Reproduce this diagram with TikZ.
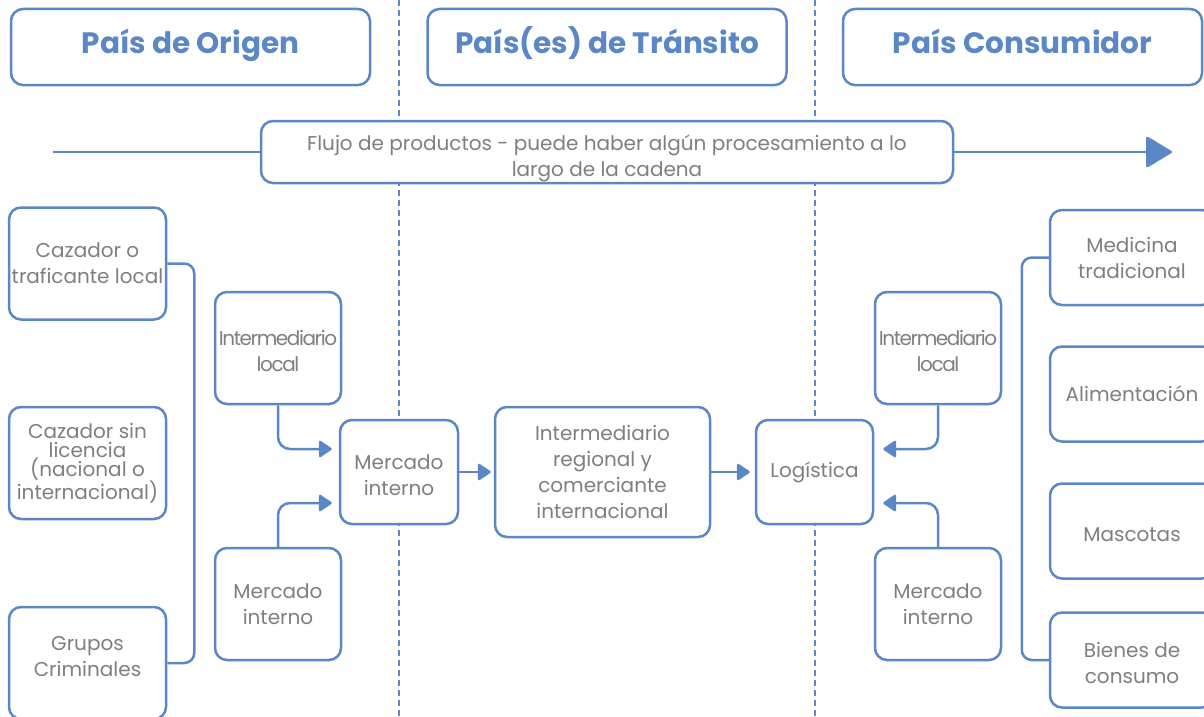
\documentclass[tikz,border=0pt]{standalone}
\usepackage{fontspec}
\setmainfont{Poppins}
\usetikzlibrary{arrows.meta,positioning,calc}
\definecolor{azul}{HTML}{5B87C6}
\definecolor{gris}{HTML}{7F7F7F}
\newcommand{\alto}[1]{\rule{0pt}{#1}}

\begin{document}
\begin{tikzpicture}[x=1pt,y=-1pt,>={Triangle[length=14pt,width=18pt,round]},
	caja/.style={draw=azul,line width=2.5pt,rounded corners=12pt,fill=white,align=center,text=gris,inner sep=2pt,font=\fontsize{20}{26}\selectfont},
	titulo/.style={caja,minimum width=359pt,minimum height=76pt,text height=22pt,text depth=8pt,text=azul,font=\fontsize{29.5}{34}\selectfont\bfseries},
	chica/.style={caja,minimum width=126pt,minimum height=112pt},
	angosto/.style={chica,font=\fontsize{20}{26}\selectfont\addfontfeature{LetterSpace=-7}},
	lateral/.style={caja,minimum width=157pt,minimum height=112pt},
	destino/.style={caja,minimum width=164pt,minimum height=95pt},
	subir/.style={execute at end node={\rule[-#1]{0pt}{0pt}}},
	frontera/.style={azul,line width=2pt,dash pattern=on 6pt off 4pt},
	flecha/.style={azul,line width=2.5pt,->,rounded corners=12pt}]
	\useasboundingbox (0,0) rectangle (1204,717);
	% fronteras
	\coordinate (f1a) at (399,0);
	\coordinate (f1b) at (399,717);
	\coordinate (f2a) at (815,0);
	\coordinate (f2b) at (815,717);
	\draw[frontera] (f1a) -- (f1b);
	\draw[frontera] (f2a) -- (f2b);
	% titulos
	\node[titulo] (hOri) at (190.5,47) {País de Origen};
	\node[titulo] (hTra) at (607,47) {País(es) de Tránsito};
	\node[titulo] (hCon) at (1022.5,47) {País Consumidor};
	% flujo
	\node[caja,inner ysep=0pt,minimum width=692pt,minimum height=62pt] (flujo) at (607,152) {\alto{29pt}Flujo de productos - puede haber algún procesamiento a lo\\largo de la cadena};
	\coordinate (flujoIni) at (53,152);
	\coordinate (flujoFin) at (1172,152);
	\draw[azul,line width=2.5pt] (flujoIni) -- (flujo.west);
	\draw[azul,line width=2.5pt,-{Triangle[length=27pt,width=32pt,round]}] (flujo.east) -- (flujoFin);
	% origen
	\node[lateral] (caz) at (87.5,263.5) {Cazador o\\traficante local};
	\node[lateral,font=\fontsize{20}{19}\selectfont] (sinlic) at (87.5,463) {Cazador sin\\licencia\\(nacional o\\internacional)};
	\node[lateral,subir=14pt] (crim) at (87.5,663) {Grupos\\Criminales};
	\node[angosto] (ilL) at (278,348) {\alto{21pt}Intermediario\\local};
	\node[chica] (miL) at (278,604) {Mercado\\interno};
	\node[caja,minimum width=118pt,minimum height=104pt] (mcL) at (399,472) {\alto{21pt}Mercado\\interno};
	% transito
	\node[caja,minimum width=215pt,minimum height=130pt] (irt) at (602.5,472) {Intermediario\\regional y\\comerciante\\internacional};
	\node[caja,minimum width=117pt,minimum height=104pt] (log) at (814.5,472) {Logística};
	% consumidor
	\node[angosto] (ilR) at (938,348) {\alto{21pt}Intermediario\\local};
	\node[chica] (miR) at (938,604) {Mercado\\interno};
	\node[destino] (medi) at (1132,257.5) {Medicina\\tradicional};
	\node[destino] (alim) at (1132,394) {Alimentación};
	\node[destino] (masc) at (1132,531) {\alto{22pt}Mascotas};
	\node[destino] (bien) at (1132,660) {\alto{21pt}Bienes de\\consumo};
	% conectores
	\draw[azul,line width=2.5pt,rounded corners=10pt] (caz.east) -- ++(27,0) |- (crim.east);
	\draw[azul,line width=2.5pt,rounded corners=10pt] (medi.west) -- ++(-27,0) |- (bien.west);
	\draw[flecha,shorten >=7pt] (ilL.south) |- ([yshift=23pt]mcL.west);
	\draw[flecha,shorten >=7pt] (miL.north) |- ([yshift=-31pt]mcL.west);
	\draw[flecha,shorten >=3pt] (mcL.east) -- (irt.west);
	\draw[flecha,shorten >=5pt] (irt.east) -- (log.west);
	\draw[flecha,shorten >=9pt] (ilR.south) |- ([yshift=23pt]log.east);
	\draw[flecha,shorten >=9pt] (miR.north) |- ([yshift=-31pt]log.east);
\end{tikzpicture}
\end{document}
